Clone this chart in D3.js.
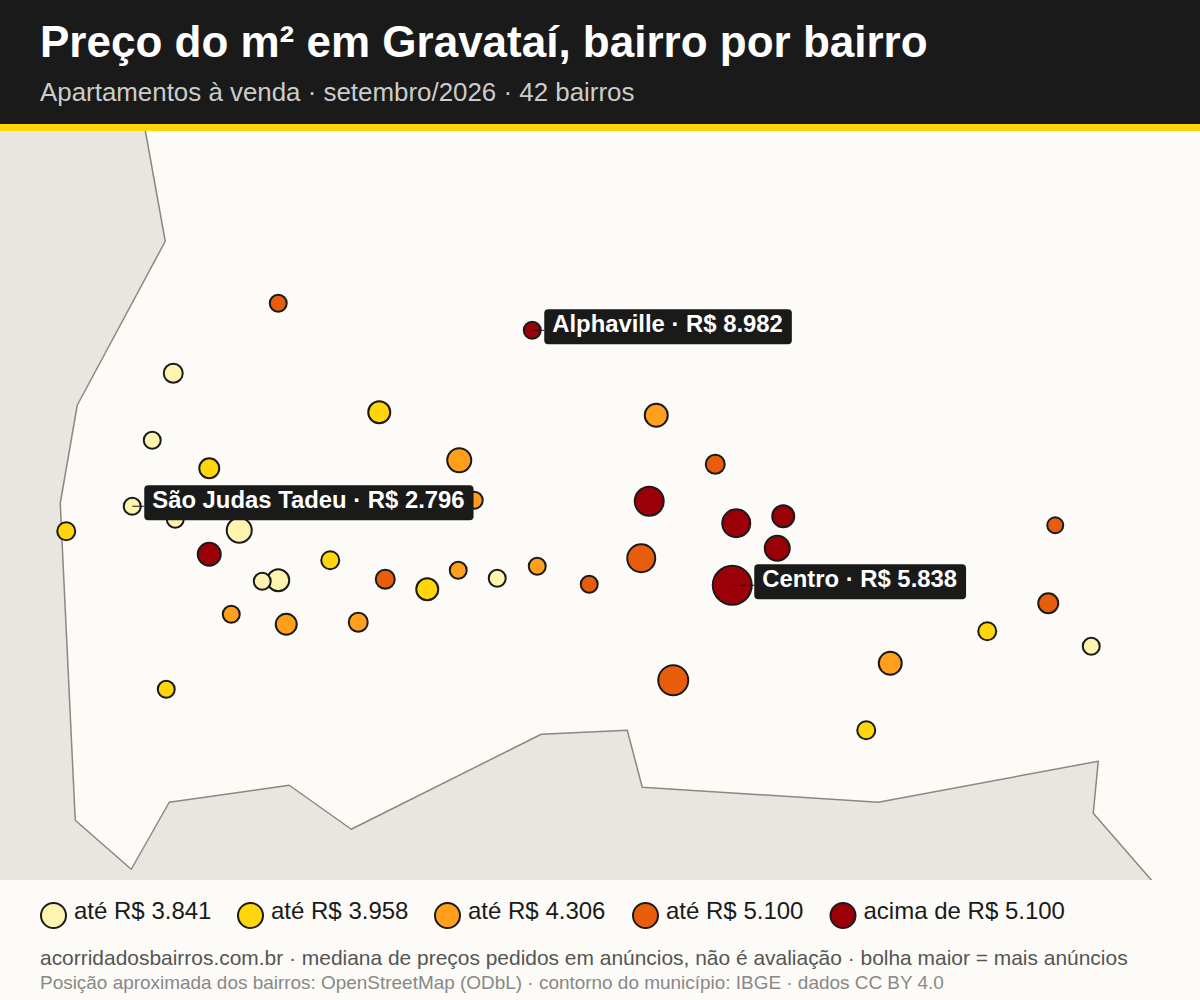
<!DOCTYPE html>
<html lang="pt-BR">

<head>
  <meta charset="utf-8">
  <title>Preço do m² em Gravataí</title>
  <script src="https://cdn.jsdelivr.net/npm/d3@7/dist/d3.min.js"></script>
  <style>
    html, body { margin: 0; padding: 0; background: #fcfbf7; }
    svg { display: block; font-family: "Liberation Sans", Arial, sans-serif; }
  </style>
</head>

<body>
  <svg id="chart" width="1200" height="1000"></svg>

  <script>
    const posX = [278, 532, 173, 379, 656, 152, 459, 715, 209, 649, 474, 132, 175, 239, 66, 736, 783, 1055, 777, 209, 641, 278, 262, 330, 385, 427, 458, 497, 537, 589, 732, 231, 286, 358, 1048, 987, 1091, 890, 673, 166, 866];
    const posY = [173, 200, 243, 282, 285, 310, 330, 334, 338, 371, 370, 376, 389, 400, 401, 393, 386, 395, 418, 424, 428, 450, 451, 430, 449, 459, 440, 448, 436, 454, 455, 484, 494, 492, 473, 501, 516, 533, 550, 559, 600];
    const anuncios = [72, 72, 90, 121, 132, 72, 144, 90, 100, 210, 72, 72, 72, 156, 81, 196, 121, 64, 156, 132, 196, 121, 72, 81, 90, 121, 72, 72, 72, 72, 380, 72, 110, 90, 100, 81, 72, 132, 225, 72, 81];
    const faixaIdx = [3, 4, 0, 1, 2, 0, 2, 3, 1, 4, 2, 0, 0, 0, 1, 4, 4, 3, 4, 4, 3, 0, 0, 1, 3, 1, 2, 0, 2, 3, 4, 2, 2, 2, 3, 1, 0, 2, 3, 1, 1];

    const faixaCores = ['#fff3b0', '#ffd60a', '#ff9f1c', '#e85d0c', '#9b0008'];
    const faixaLabels = ['até R$ 3.841', 'até R$ 3.958', 'até R$ 4.306', 'até R$ 5.100', 'acima de R$ 5.100'];

    // contorno do municipio
    const contornoX = [145, 165, 77, 60, 66, 75, 131, 169, 289, 351, 541, 627, 642, 878, 1098, 1093, 1160, 1300, 1300];
    const contornoY = [0, 111, 275, 373, 500, 690, 739, 672, 655, 699, 604, 600, 657, 672, 631, 683, 760, 760, -20];

    const destaques = [
      { idx: 1, nome: 'Alphaville · R$ 8.982', dx: 12 },
      { idx: 11, nome: 'São Judas Tadeu · R$ 2.796', dx: 12 },
      { idx: 30, nome: 'Centro · R$ 5.838', dx: 22 }
    ];

    const svg = d3.select('#chart');

    const x = d3.scaleLinear().domain([0, 1200]).range([0.25, 1200.25]);
    const y = d3.scaleLinear().domain([0, 750]).range([130.25, 880.25]);
    const r = d3.scaleSqrt().domain([0, 400]).range([0, 20]);

    // cabecalho
    svg.append('rect').attr('width', 1200).attr('height', 1000).attr('fill', '#fcfbf7');
    svg.append('rect').attr('width', 1200).attr('height', 124).attr('fill', '#1a1a1a');

    svg.append('text').attr('x', 40).attr('y', 57)
      .attr('font-size', 44).attr('font-weight', 'bold').attr('fill', '#fff')
      .text('Preço do m² em Gravataí, bairro por bairro');
    svg.append('text').attr('x', 40).attr('y', 101)
      .attr('font-size', 25.9).attr('fill', '#cccccc')
      .text('Apartamentos à venda · setembro/2026 · 42 bairros');

    // mapa
    svg.append('clipPath').attr('id', 'map-clip')
      .append('rect').attr('x', 0).attr('y', 130).attr('width', 1200).attr('height', 750);

    const mapa = svg.append('g').attr('clip-path', 'url(#map-clip)');
    mapa.append('rect').attr('x', 0).attr('y', 130).attr('width', 1200).attr('height', 750).attr('fill', '#e9e6df');

    const linha = d3.line().x(i => x(contornoX[i])).y(i => y(contornoY[i]));
    mapa.append('path')
      .attr('d', linha(d3.range(contornoX.length)) + 'Z')
      .attr('fill', '#fcfbf7')
      .attr('stroke', '#8a8880')
      .attr('stroke-width', 1.5)
      .attr('stroke-linejoin', 'round');

    svg.append('rect').attr('y', 124).attr('width', 1200).attr('height', 7).attr('fill', '#ffd60a');

    // bolhas, as menores por cima
    const ordem = d3.range(posX.length).sort((a, b) => anuncios[b] - anuncios[a]);
    svg.append('g').selectAll('circle')
      .data(ordem)
      .join('circle')
      .attr('cx', i => x(posX[i]))
      .attr('cy', i => y(posY[i]))
      .attr('r', i => r(anuncios[i]))
      .attr('fill', i => faixaCores[faixaIdx[i]])
      .attr('stroke', '#1a1a1a')
      .attr('stroke-width', 2);

    // rotulos dos destaques
    destaques.forEach(function (d) {
      const cx = x(posX[d.idx]);
      const cy = y(posY[d.idx]);
      const g = svg.append('g');

      const line = g.append('line')
        .attr('x1', cx).attr('y1', cy)
        .attr('y2', cy)
        .attr('stroke', '#1a1a1a').attr('stroke-width', 1);
      const box = g.append('rect')
        .attr('fill', '#1a1a1a').attr('rx', 4);
      const text = g.append('text')
        .attr('x', cx + d.dx + 8)
        .attr('y', cy - 21 + 23)
        .attr('font-size', 23.85).attr('font-weight', 'bold').attr('fill', '#fff')
        .text(d.nome);

      const w = text.node().getComputedTextLength();
      box.attr('x', cx + d.dx).attr('y', cy - 21)
        .attr('width', w + 17).attr('height', 35);
      line.attr('x2', cx + d.dx);
    });

    // legenda
    const legendaX = [53.5, 250.5, 447.5, 645.5, 843];
    const legenda = svg.append('g').selectAll('g')
      .data(faixaLabels)
      .join('g')
      .attr('transform', (d, i) => `translate(${legendaX[i]},915.5)`);
    legenda.append('circle')
      .attr('r', 12.5)
      .attr('fill', (d, i) => faixaCores[i])
      .attr('stroke', '#1a1a1a')
      .attr('stroke-width', 2);
    legenda.append('text')
      .attr('x', 20.5).attr('y', 3)
      .attr('font-size', 24).attr('fill', '#1a1a1a')
      .text(d => d);

    // rodape
    svg.append('text').attr('x', 40).attr('y', 965)
      .attr('font-size', 20.95).attr('fill', '#555555')
      .text('acorridadosbairros.com.br · mediana de preços pedidos em anúncios, não é avaliação · bolha maior = mais anúncios');
    svg.append('text').attr('x', 40).attr('y', 989)
      .attr('font-size', 18.95).attr('fill', '#888888')
      .text('Posição aproximada dos bairros: OpenStreetMap (ODbL) · contorno do município: IBGE · dados CC BY 4.0');
  </script>
</body>

</html>
